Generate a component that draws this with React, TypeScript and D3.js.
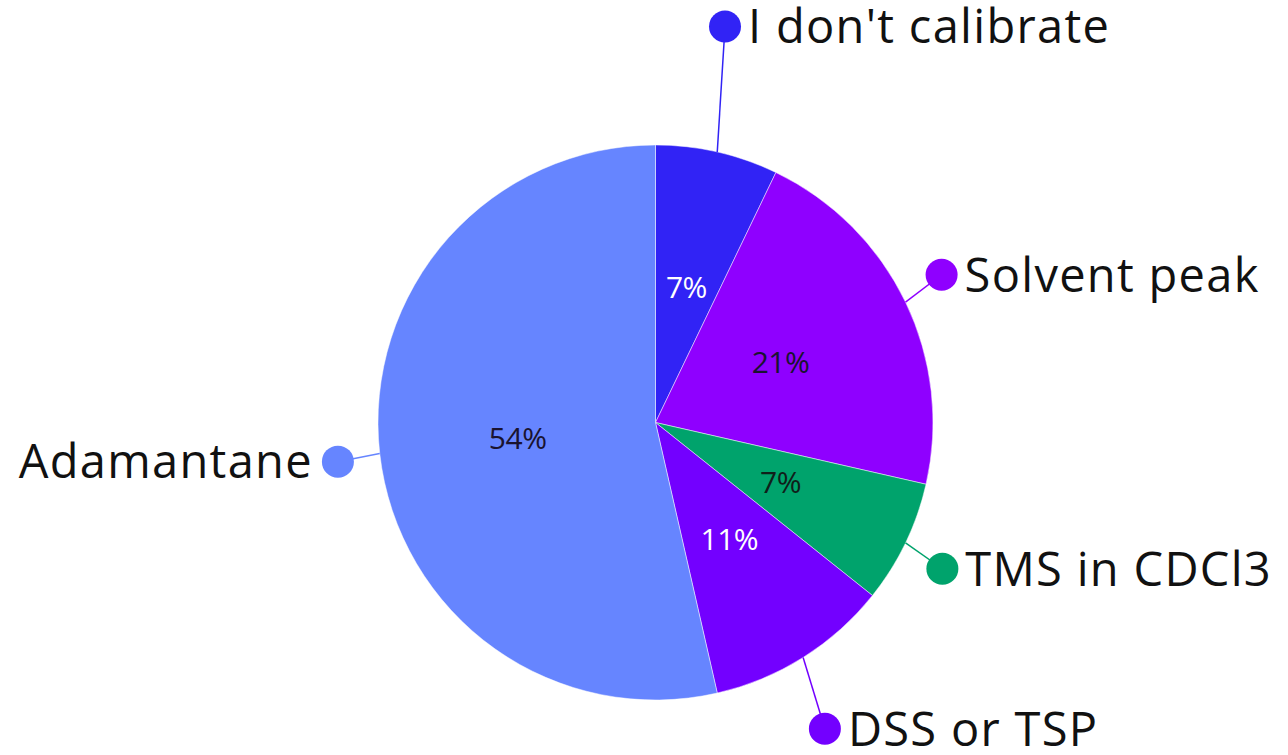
import React from "react";
import * as d3 from "d3";

const categories = ["I don't calibrate", "Solvent peak", "TMS in CDCl3", "DSS or TSP", "Adamantane"];
const counts = [2, 6, 2, 3, 15];
const percentLabels = ["7%", "21%", "7%", "11%", "54%"];

const colors = ["#3123f5", "#8f00ff", "#00a36c", "#7300ff", "#6685ff"];
const pctColors = ["#ffffff", "#1a1330", "#10201a", "#ffffff", "#1a1330"];
// outside-label layout: radial distance of marker dot and angular nudge (degrees)
const dotRadius = [402, 322, 322, 350, 320];
const dotNudge = [-2.9, -1.6, 1.3, 3.2, -0.6];

const W = 1288, H = 755;
const CX = 655.5, CY = 422.5, R = 277.5;
const FONT = "'Open Sans', sans-serif";

export default function App() {
  const pie = d3.pie<number>().sort(null).value((d) => d);
  const arcs = pie(counts);
  const arcGen = d3.arc<d3.PieArcDatum<number>>().innerRadius(0).outerRadius(R);
  const polar = (ang: number, r: number): [number, number] => [Math.sin(ang) * r, -Math.cos(ang) * r];
  const labelFS = 47;
  const cap = labelFS * 0.714;

  return (
    <svg width={W} height={H} style={{ position: "absolute", left: 0, top: 0, background: "#fff" }}>
      <g transform={`translate(${CX},${CY})`}>
        {arcs.map((a, i) => (
          <path key={"s" + i} d={arcGen(a) || ""} fill={colors[i]} stroke="#ffffff" strokeOpacity={0.6} strokeWidth={0.8} />
        ))}
        {arcs.map((a, i) => {
          const mid = (a.startAngle + a.endAngle) / 2;
          const [x, y] = polar(mid, R * 0.5);
          return (
            <text key={"p" + i} x={x} y={y} dy="0.35em" textAnchor="middle" fontFamily={FONT} fontSize={30} letterSpacing={-0.5} fill={pctColors[i]}>
              {percentLabels[i]}
            </text>
          );
        })}
        {arcs.map((a, i) => {
          const mid = (a.startAngle + a.endAngle) / 2;
          const [ex, ey] = polar(mid, R);
          const [dx, dy] = polar(mid + (dotNudge[i] * Math.PI) / 180, dotRadius[i]);
          const right = dx >= 0;
          return (
            <g key={"l" + i}>
              <line x1={ex} y1={ey} x2={dx} y2={dy} stroke={colors[i]} strokeWidth={1.5} />
              <circle cx={dx} cy={dy} r={16} fill={colors[i]} />
              <text
                x={right ? dx + 23 : dx - 25}
                y={dy + cap / 2}
                textAnchor={right ? "start" : "end"}
                fontFamily={FONT}
                fontSize={labelFS}
                letterSpacing={1.3}
                fill="#111111"
              >
                {categories[i]}
              </text>
            </g>
          );
        })}
      </g>
    </svg>
  );
}
